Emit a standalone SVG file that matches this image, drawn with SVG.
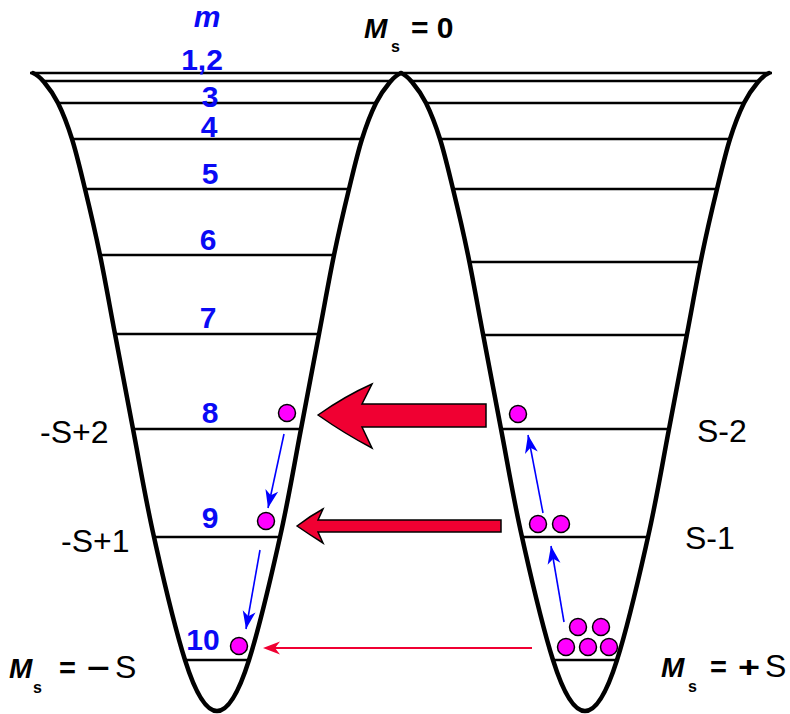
<svg xmlns="http://www.w3.org/2000/svg" xmlns:xlink="http://www.w3.org/1999/xlink" width="790" height="714" viewBox="0 0 790 714">
  <style>
    .wall{fill:none;stroke:#000;stroke-width:4.5;stroke-linejoin:round;stroke-linecap:round}
    .lvl{stroke:#000;stroke-width:2.7;fill:none}
    .num{font-family:"Liberation Sans",Arial,sans-serif;font-weight:bold;font-size:30px;fill:#0A0AF5;text-anchor:middle}
    .lab{font-family:"Liberation Sans",Arial,sans-serif;font-size:32px;fill:#000}
    .bold{font-family:"Liberation Sans",Arial,sans-serif;font-weight:bold;fill:#000}
    .dot{fill:#FF00FF;stroke:#000;stroke-width:1.5}
    .red{fill:#F00032;stroke:#000;stroke-width:1.5;stroke-linejoin:miter}
    .blue{stroke:#0000FF;stroke-width:1.6;fill:none}
  </style>
  <defs>
    <path id="well" d="M33,73 C37,74.5 39.8,77 44,82 C48.2,87 53.3,93.5 58,103 C62.7,112.5 67.5,124.7 72,139 C76.5,153.3 80.3,169.7 85,189 C89.7,208.3 95,230.8 100,255 C105,279.2 109.5,305 115,334 C120.5,363 126.5,395.2 133,429 C139.5,462.8 145.3,498.5 154,537 C162.7,575.5 172.4,620 185,660 Q217,762 249,660 C261.6,620 271.3,575.5 280,537 C288.7,498.5 294.5,462.8 301,429 C307.5,395.2 313.5,363 319,334 C324.5,305 329,279.2 334,255 C339,230.8 344.3,208.3 349,189 C353.7,169.7 357.5,153.3 362,139 C366.5,124.7 371.3,112.5 376,103 C380.7,93.5 385.8,87 390,82 C394.2,77 397,74.5 401,73"/>
    <marker id="bh" markerUnits="userSpaceOnUse" markerWidth="24" markerHeight="16" viewBox="-20 -8 22 16" refX="0" refY="0" orient="auto">
      <path d="M0,0 L-18,-6.5 L-13,0 L-18,6.5 Z" fill="#0000FF"/>
    </marker>
  </defs>

  <g id="levels">
    <line class="lvl" x1="30" y1="73" x2="772" y2="73"/>
    <line class="lvl" x1="42" y1="81" x2="391" y2="81"/>
    <line class="lvl" x1="58" y1="103" x2="376" y2="103"/>
    <line class="lvl" x1="72" y1="139" x2="362" y2="139"/>
    <line class="lvl" x1="85" y1="189" x2="349" y2="189"/>
    <line class="lvl" x1="100" y1="255" x2="334" y2="255"/>
    <line class="lvl" x1="115" y1="334" x2="319" y2="334"/>
    <line class="lvl" x1="133" y1="429" x2="301" y2="429"/>
    <line class="lvl" x1="154" y1="537" x2="280" y2="537"/>
    <line class="lvl" x1="185" y1="660" x2="249" y2="660"/>

    <line class="lvl" x1="411" y1="81" x2="759" y2="81"/>
    <line class="lvl" x1="426" y1="103" x2="744" y2="103"/>
    <line class="lvl" x1="440" y1="139" x2="730" y2="139"/>
    <line class="lvl" x1="453" y1="189" x2="717" y2="189"/>
    <line class="lvl" x1="469" y1="262" x2="701" y2="262"/>
    <line class="lvl" x1="483" y1="335" x2="687" y2="335"/>
    <line class="lvl" x1="501" y1="429" x2="669" y2="429"/>
    <line class="lvl" x1="522" y1="537" x2="648" y2="537"/>
    <line class="lvl" x1="553" y1="660" x2="617" y2="660"/>
  </g>

  <g id="left-well"><use xlink:href="#well" href="#well" class="wall"/></g>
  <g id="right-well"><use xlink:href="#well" href="#well" class="wall" transform="translate(368,0)"/></g>

  <g id="m-labels">
    <text x="207" y="27" class="num" font-style="italic">m</text>
    <text x="202" y="70" class="num">1,2</text>
    <text x="210" y="107" class="num">3</text>
    <text x="209" y="137" class="num">4</text>
    <text x="210" y="184" class="num">5</text>
    <text x="208" y="250" class="num">6</text>
    <text x="208" y="328" class="num">7</text>
    <text x="210" y="423" class="num">8</text>
    <text x="210" y="528" class="num">9</text>
    <text x="203" y="650" class="num">10</text>
  </g>

  <g id="ms-labels">
    <text x="364" y="38" class="bold" font-size="28" font-style="italic">M</text>
    <text x="391" y="52" class="bold" font-size="16">s</text>
    <text x="411" y="38" class="bold" font-size="30">= 0</text>

    <text x="40" y="443" class="lab">-S+2</text>
    <text x="61" y="552" class="lab">-S+1</text>
    <text x="697" y="442" class="lab">S-2</text>
    <text x="685" y="549" class="lab">S-1</text>

    <text x="9" y="678" class="bold" font-size="28" font-style="italic">M</text>
    <text x="33" y="693" class="bold" font-size="16">s</text>
    <text x="59" y="678" class="bold" font-size="29">=</text>
    <text x="87" y="678" class="bold" font-size="29" textLength="23" lengthAdjust="spacingAndGlyphs">−</text>
    <text x="115" y="678" class="lab">S</text>

    <text x="661" y="677" class="bold" font-size="28" font-style="italic">M</text>
    <text x="688" y="692" class="bold" font-size="16">s</text>
    <text x="710" y="677" class="bold" font-size="29">=</text>
    <text x="738" y="677" class="bold" font-size="29" textLength="22" lengthAdjust="spacingAndGlyphs">+</text>
    <text x="765" y="677" class="lab">S</text>
  </g>

  <g id="connectors">
    <path class="red" d="M318,415 Q345,396 372,384 L362,404 L486,404 L486,427 L362,427 L372,448 Q345,434 318,415 Z"/>
    <path class="red" d="M297,526 Q310,516 323,509 L318,520 L501,520 L501,532 L318,532 L323,543 Q310,535 297,526 Z"/>
    <line x1="532" y1="648" x2="272" y2="648" stroke="#F00032" stroke-width="2"/>
    <path d="M263,648 L280,641.5 L275,648 L280,654.5 Z" fill="#F00032"/>

    <line class="blue" x1="284" y1="434" x2="268" y2="508" marker-end="url(#bh)"/>
    <line class="blue" x1="260" y1="550" x2="246" y2="629" marker-end="url(#bh)"/>
    <line class="blue" x1="564" y1="622" x2="551" y2="546" marker-end="url(#bh)"/>
    <line class="blue" x1="543" y1="513" x2="528" y2="435" marker-end="url(#bh)"/>
  </g>

  <g id="particles">
    <circle class="dot" cx="287" cy="413" r="8.5"/>
    <circle class="dot" cx="266" cy="521" r="8.5"/>
    <circle class="dot" cx="239" cy="646" r="8.5"/>
    <circle class="dot" cx="518" cy="414" r="8.5"/>
    <circle class="dot" cx="538" cy="524" r="8.5"/>
    <circle class="dot" cx="561" cy="524" r="8.5"/>
    <circle class="dot" cx="578" cy="627" r="8.5"/>
    <circle class="dot" cx="601" cy="627" r="8.5"/>
    <circle class="dot" cx="566" cy="647" r="8.5"/>
    <circle class="dot" cx="588" cy="647" r="8.5"/>
    <circle class="dot" cx="609" cy="647" r="8.5"/>
  </g>
</svg>
